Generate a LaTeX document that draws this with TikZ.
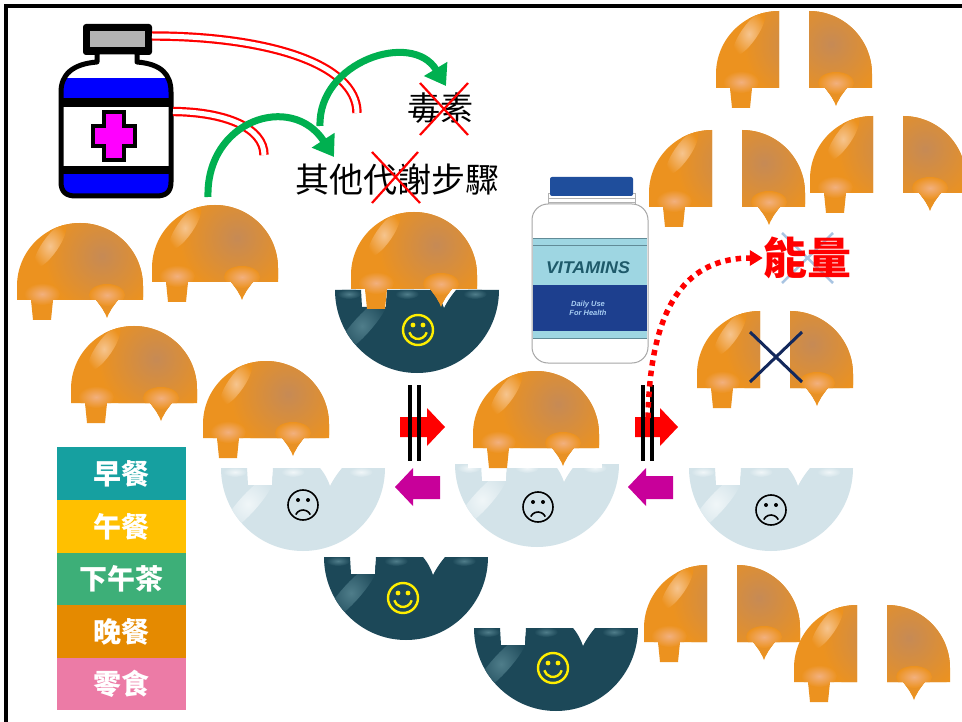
\documentclass[tikz,border=0pt]{standalone}
\usepackage{fontspec}
\newfontfamily\cjk{Noto Sans CJK TC}
\newfontfamily\latinsans{Liberation Sans}
\usetikzlibrary{arrows.meta}

\definecolor{caporange}{HTML}{EC921F}
\definecolor{capbrown}{HTML}{C68A55}
\definecolor{capglow}{HTML}{F6C48E}
\definecolor{capspot}{HTML}{F2B07E}
\definecolor{bowldark}{HTML}{1C4858}
\definecolor{bowldarkhi}{HTML}{4F7D8A}
\definecolor{bowllight}{HTML}{D3E3E9}
\definecolor{bowllighthi}{HTML}{F0F6F8}
\definecolor{arrowgreen}{HTML}{00B050}
\definecolor{pushmagenta}{HTML}{C8009A}
\definecolor{navyx}{HTML}{13285C}
\definecolor{paleblue}{HTML}{A8C4E2}
\definecolor{medblue}{HTML}{0000FF}
\definecolor{medpink}{HTML}{FF00FF}
\definecolor{medgray}{HTML}{B2B2B2}
\definecolor{vitcap}{HTML}{1F4E9C}
\definecolor{vitband}{HTML}{9ED6E2}
\definecolor{vitdark}{HTML}{1D3F8E}
\definecolor{vittext}{HTML}{1E5A6A}
\definecolor{vitsmall}{HTML}{A6CCF2}
\definecolor{legteal}{HTML}{16A0A0}
\definecolor{legyellow}{HTML}{FFC000}
\definecolor{leggreen}{HTML}{3DAF78}
\definecolor{legorange}{HTML}{E58A00}
\definecolor{legpink}{HTML}{EC7BA6}
\definecolor{smileyellow}{HTML}{FFEE00}

% outline of a substrate cap: dome above, square tab and spike below
\newcommand\capoutline{(-63,0) -- (-63,-14) arc[start angle=180,end angle=360,x radius=63,y radius=63] -- (63,0) -- (38,0) .. controls (33,6) and (29,12) .. (27,18) .. controls (25,12) and (21,6) .. (16,0) -- (-27,0) -- (-29,20) -- (-47,20) -- (-49,0) -- cycle}
% outline of an enzyme bowl with the matching notches
\newcommand\bowloutline{(-82,0) -- (-56,0) -- (-55,17) -- (-31,17) -- (-30,0) -- (17,0) .. controls (22,6) and (25,12) .. (27,18) .. controls (30,12) and (34,6) .. (39,0) -- (82,0) arc[start angle=0,end angle=180,x radius=82,y radius=83] -- cycle}
% medicine bottle body
\newcommand\medbody{(97,52) -- (97,62) .. controls (72,64) and (61,75) .. (61,92) -- (61,182) .. controls (61,192) and (66,196) .. (76,196) -- (156,196) .. controls (166,196) and (171,192) .. (171,182) -- (171,92) .. controls (171,75) and (162,64) .. (137,62) -- (137,52) -- cycle}

\tikzset{
  pics/cap/.style={code={
    \begin{scope}
      \clip \capoutline;
      \fill[caporange] (-70,-90) rectangle (70,30);
      \shade[inner color=capbrown, outer color=caporange] (22,-44) circle[radius=58];
      \shade[inner color=capglow, outer color=caporange, rotate around={-35:(-30,-54)}] (-30,-54) ellipse[x radius=8, y radius=26];
      \shade[inner color=capspot, outer color=caporange] (-38,-6) ellipse[x radius=18, y radius=11];
      \shade[inner color=capspot, outer color=caporange] (27,-5) ellipse[x radius=18, y radius=11];
    \end{scope}
  }},
  pics/splitcap/.style={code={
    \begin{scope}[shift={(-15,0)}]
      \clip (-80,-100) rectangle (0,40);
      \begin{scope}[xscale=0.9] \pic {cap}; \end{scope}
    \end{scope}
    \begin{scope}[shift={(15,0)}]
      \clip (0,-100) rectangle (80,40);
      \begin{scope}[xscale=0.9] \pic {cap}; \end{scope}
    \end{scope}
  }},
  pics/bowl/.style 2 args={code={
    \begin{scope}
      \clip \bowloutline;
      \fill[#1] (-90,-5) rectangle (90,90);
      \shade[inner color=#2, outer color=#1, rotate around={-42:(-55,36)}] (-55,36) ellipse[x radius=9, y radius=38];
      \shade[inner color=#2, outer color=#1] (-68,4) ellipse[x radius=12, y radius=5];
      \shade[inner color=#2, outer color=#1] (-10,4) ellipse[x radius=12, y radius=5];
      \shade[inner color=#2, outer color=#1] (58,4) ellipse[x radius=12, y radius=5];
    \end{scope}
  }},
  pics/smiley/.style={code={
    \draw[smileyellow, line width=2.4] (0,0) circle[radius=15];
    \fill[smileyellow] (-5,-5) circle[radius=2.4] (5,-5) circle[radius=2.4];
    \draw[smileyellow, line width=2.4] (8.7,2.3) arc[start angle=15, end angle=165, radius=9];
  }},
  pics/frowny/.style={code={
    \draw[black, line width=1.6] (0,0) circle[radius=15];
    \fill[black] (-5,-5) circle[radius=2] (5,-5) circle[radius=2];
    \draw[black, line width=1.6] (-7.25,9.6) arc[start angle=205, end angle=335, radius=8];
  }},
  blockpush/.style={fill=red},
  blockpull/.style={fill=pushmagenta},
  barrier/.style={line width=4, black},
  greenflow/.style={arrowgreen, line width=7, -{Triangle[length=20pt,width=26pt]}},
  drugline/.style={red, line width=2.2, double=white, double distance=5},
  crossout/.style={red, line width=2.2},
  legcell/.style={minimum width=129, minimum height=53, inner sep=0, text=white,
    font=\cjk\bfseries\fontsize{28}{28}\selectfont},
  cjktext/.style={inner sep=0, font=\cjk\fontsize{#1}{#1}\selectfont},
}

\begin{document}
\begin{tikzpicture}[x=1pt, y=-1pt]
  \fill[white] (0,0) rectangle (962,722);
  \useasboundingbox (0,0) rectangle (962,722);

  % ---- free caps on the left ----
  \pic at (80,300) {cap};
  \pic at (215,282) {cap};
  \pic at (134,403) {cap};
  \pic at (266,438) {cap};

  % ---- enzyme bowls ----
  \pic at (417,290) {bowl={bowldark}{bowldarkhi}};
  \pic at (303,468) {bowl={bowllight}{bowllighthi}};
  \pic at (537,464) {bowl={bowllight}{bowllighthi}};
  \pic at (771,468) {bowl={bowllight}{bowllighthi}};
  \pic at (406,557) {bowl={bowldark}{bowldarkhi}};
  \pic at (556,628) {bowl={bowldark}{bowldarkhi}};

  % caps sitting in bowls
  \pic at (414,289) {cap};
  \fill[white] (468,447) rectangle (602,468);
  \pic at (536,448) {cap};

  % faces
  \pic at (418,330) {smiley};
  \pic at (403,598) {smiley};
  \pic at (553,668) {smiley};
  \pic at (303,505) {frowny};
  \pic at (538,507) {frowny};
  \pic at (771,510) {frowny};

  % ---- broken caps on the right ----
  \pic at (794,88) {splitcap};
  \pic at (727,207) {splitcap};
  \pic at (888,193) {splitcap};
  \pic at (775,388) {splitcap};
  \pic at (722,642) {splitcap};
  \pic at (872,682) {splitcap};

  % ---- medicine bottle ----
  \fill[black, rounded corners=3] (83,24) rectangle (152,55);
  \fill[medgray] (90,31) rectangle (145,47);
  \fill[white] \medbody;
  \begin{scope}
    \clip \medbody;
    \fill[medblue] (50,78) rectangle (180,98);
    \fill[black] (50,98) rectangle (180,107);
    \fill[black] (50,166) rectangle (180,174);
    \fill[medblue] (50,174) rectangle (180,200);
  \end{scope}
  \draw[black, line width=5, line join=round] \medbody;
  \draw[black, line width=4, fill=medpink] (104,112) -- (124,112) -- (124,126) -- (135,126) -- (135,146) -- (124,146) -- (124,160) -- (104,160) -- (104,146) -- (93,146) -- (93,126) -- (104,126) -- cycle;
  \coordinate (medcap) at (152,36);
  \coordinate (medlabel) at (173,111.5);

  % ---- vitamin bottle ----
  \draw[gray!60, line width=0.8, fill=white] (548,193) rectangle (635,206);
  \draw[gray!60, line width=0.8] (548,198) -- (635,198) (548,202) -- (635,202);
  \draw[gray!70, line width=1, fill=white, rounded corners=16] (532,204) rectangle (648,363);
  \fill[vitband] (533,238) rectangle (647,338);
  \fill[vitdark] (533,285) rectangle (647,331);
  \draw[vittext!70, line width=0.6] (533,238) -- (647,238) (533,245) -- (647,245) (533,338) -- (647,338);
  \fill[vitcap, rounded corners=2] (550,177) rectangle (633,196);
  \node[inner sep=0, text=vittext, font=\latinsans\bfseries\itshape\fontsize{17}{17}\selectfont, xscale=1.05] (vitname) at (588,268) {VITAMINS};
  \node[inner sep=0, text=vitsmall, align=center, font=\latinsans\bfseries\itshape\fontsize{7.5}{9}\selectfont] (vituse) at (588,308) {Daily Use\\For Health};

  % ---- texts ----
  \node[cjktext=33] (toxin) at (440,108) {毒素};
  \node[cjktext=34] (steps) at (397,180) {其他代謝步驟};
  \draw[crossout] (420,83) -- (468,135) (468,83) -- (420,135);
  \draw[crossout] (372,152) -- (420,203) (418,152) -- (372,203);

  % ---- drug lines blocking the pathways ----
  \coordinate (blockhigh) at (357,113);
  \coordinate (blocklow) at (264,155);
  \draw[drugline] (medcap) .. controls (262,36) and (357,62) .. (blockhigh);
  \draw[drugline] (medlabel) .. controls (226,112) and (264,128) .. (blocklow);

  % ---- green flows ----
  \coordinate (capexit) at (208,197);
  \coordinate (stepsin) at (334,157);
  \coordinate (stepsexit) at (320,126);
  \coordinate (toxinin) at (446,86);
  \draw[greenflow] (capexit) .. controls (206,120) and (292,92) .. (stepsin);
  \draw[greenflow] (stepsexit) .. controls (318,62) and (412,30) .. (toxinin);

  % ---- shifts of the equilibrium ----
  \fill[blockpush] (400,417) -- (427,417) -- (427,408) -- (445,427) -- (427,446) -- (427,437) -- (400,437) -- cycle;
  \fill[blockpush] (635,417) -- (660,417) -- (660,408) -- (678,427) -- (660,446) -- (660,437) -- (635,437) -- cycle;
  \fill[blockpull] (395,487) -- (413,468) -- (413,476) -- (440,476) -- (440,499) -- (413,499) -- (413,506) -- cycle;
  \fill[blockpull] (628,487) -- (646,468) -- (646,476) -- (673,476) -- (673,499) -- (646,499) -- (646,506) -- cycle;
  \draw[barrier] (410,385) -- (410,461) (419,385) -- (419,461);
  \draw[barrier] (643,385) -- (643,461) (652,385) -- (652,461);

  % ---- energy ----
  \draw[paleblue, line width=2.5] (782,233) -- (833,283) (833,233) -- (782,283);
  \node[inner sep=0, text=red, font=\cjk\bfseries\fontsize{44}{44}\selectfont] (energy) at (807,258) {能量};
  \coordinate (energyfrom) at (648,418);
  \draw[red, line width=5.5, dash pattern=on 5.5 off 5, -{Triangle[length=13pt,width=15pt]}] (energyfrom) .. controls (650,300) and (690,258) .. (energy.west);
  \draw[navyx, line width=3] (750,332) -- (802,382) (802,332) -- (750,382);

  % ---- meal legend ----
  \node[legcell, fill=legteal] (breakfast) at (121.5,473.5) {早餐};
  \node[legcell, fill=legyellow] (lunch) at (121.5,526.5) {午餐};
  \node[legcell, fill=leggreen, minimum height=52] (tea) at (121.5,579) {下午茶};
  \node[legcell, fill=legorange] (dinner) at (121.5,631.5) {晚餐};
  \node[legcell, fill=legpink, minimum height=52] (snack) at (121.5,684) {零食};

  % ---- frame ----
  \draw[black, line width=3.5] (6,722) -- (6,6) -- (962,6);
\end{tikzpicture}
\end{document}
